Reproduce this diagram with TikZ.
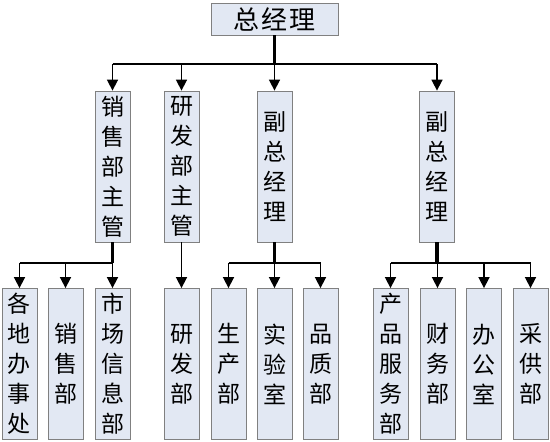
\documentclass[tikz,border=0pt]{standalone}
\usepackage{fontspec}
\setmainfont{Noto Sans CJK SC}
\usepackage{tikz}
\usetikzlibrary{arrows.meta, calc}
\definecolor{boxbg}{RGB}{226,232,243}
\definecolor{boxframe}{RGB}{128,128,128}

\begin{document}
\begin{tikzpicture}[
        x=1pt, y=-1pt,
        box/.style={draw=boxframe, fill=boxbg, line width=0.8pt, inner sep=0pt, minimum width=35pt, minimum height=151pt, align=center, font=\fontsize{23}{30}\selectfont},
        topbox/.style={draw=boxframe, fill=boxbg, line width=0.8pt, inner sep=0pt, minimum width=127pt, minimum height=32pt, font=\fontsize{26}{28}\selectfont},
        trunk/.style={line width=3.5pt},
        bus/.style={line width=1.6pt},
        arr/.style={-{Triangle[width=11pt,length=11pt]}, line width=1.6pt}
    ]
    \useasboundingbox (0,0) rectangle (550,442);

    % top
    \node[topbox] (ceo) at (274.5,19) {总\hspace{2pt}经\hspace{2pt}理};

    % second row
    \node[box] (salesmgr) at (112.5,166.5) {销\\售\\部\\主\\管};
    \node[box] (rdmgr) at (181.5,166.5) {研\\发\\部\\主\\管};
    \node[box] (vpa) at (274.5,166.5) {副\\总\\经\\理};
    \node[box] (vpb) at (437,166.5) {副\\总\\经\\理};

    % third row
    \node[box] (offices) at (19.5,364) {各\\地\\办\\事\\处};
    \node[box] (sales) at (65.5,364) {销\\售\\部};
    \node[box] (market) at (112.5,364) {市\\场\\信\\息\\部};
    \node[box] (rd) at (181.5,364) {研\\发\\部};
    \node[box] (prod) at (228.5,364) {生\\产\\部};
    \node[box] (lab) at (274.5,364) {实\\验\\室};
    \node[box] (quality) at (320.5,364) {品\\质\\部};
    \node[box] (service) at (390.5,364) {产\\品\\服\\务\\部};
    \node[box] (finance) at (437.5,364) {财\\务\\部};
    \node[box] (admin) at (484,364) {办\\公\\室};
    \node[box] (purchase) at (530.5,364) {采\\供\\部};

    \coordinate (busa) at (0,64);
    \coordinate (busb) at (0,263);

    % ceo to second row
    \draw[trunk] (ceo.south) -- (ceo.south |- busa);
    \draw[bus] (salesmgr.north |- busa) -- (vpb.north |- busa);
    \foreach \n in {salesmgr, rdmgr, vpa, vpb}
        \draw[arr] (\n.north |- busa) -- (\n.north);

    % sales group
    \draw[trunk] (salesmgr.south) -- (salesmgr.south |- busb);
    \draw[bus] (offices.north |- busb) -- (market.north |- busb);
    \foreach \n in {offices, sales, market}
        \draw[arr] (\n.north |- busb) -- (\n.north);

    % research
    \draw[arr] (rdmgr.south) -- (rd.north);

    % first vice manager
    \draw[trunk] (vpa.south) -- (vpa.south |- busb);
    \draw[bus] (prod.north |- busb) -- (quality.north |- busb);
    \foreach \n in {prod, lab, quality}
        \draw[arr] (\n.north |- busb) -- (\n.north);

    % second vice manager
    \draw[trunk] (vpb.south) -- (vpb.south |- busb);
    \draw[bus] (service.north |- busb) -- (purchase.north |- busb);
    \foreach \n in {service, finance, admin, purchase}
        \draw[arr] (\n.north |- busb) -- (\n.north);

\end{tikzpicture}
\end{document}
